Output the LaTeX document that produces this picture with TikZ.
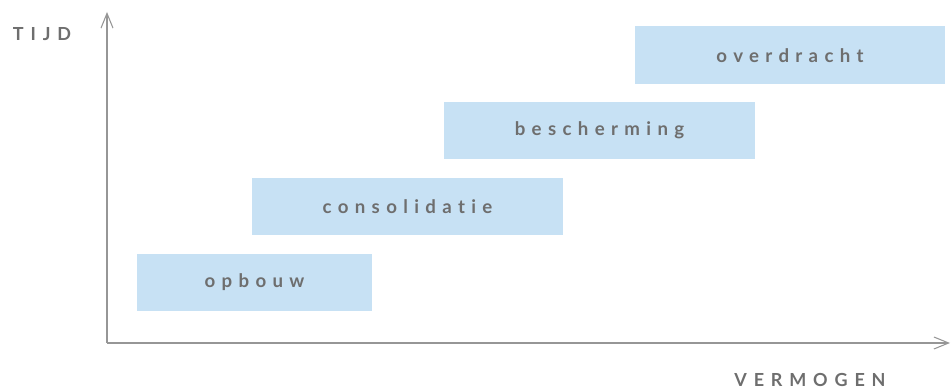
\documentclass[tikz,border=0pt]{standalone}
\usepackage{fontspec}
\setmainfont{Lato}[Ligatures=NoCommon]
\usetikzlibrary{arrows.meta}

\definecolor{stagefill}{RGB}{199,225,244}
\definecolor{labelgray}{RGB}{110,110,110}
\definecolor{axisgray}{RGB}{150,150,150}

\tikzset{
  stage/.style={fill=stagefill, text=labelgray, inner sep=0pt, minimum height=42.75pt,
    font=\fontsize{14}{16}\selectfont\addfontfeature{LetterSpace=34}\bfseries},
  axislabel/.style={text=labelgray, inner sep=0pt,
    font=\fontsize{13.5}{15}\selectfont\addfontfeature{LetterSpace=38}\bfseries},
  axis/.style={draw=axisgray, line width=0.9pt, -{Straight Barb[length=11pt,width=9pt,line width=0.8pt]}}
}

\begin{document}
\begin{tikzpicture}[x=0.75pt,y=0.75pt,yscale=-1,xscale=1]
\useasboundingbox (0,0) rectangle (951,391);

%Axes
\coordinate (origin) at (107,343);
\coordinate (ytop) at (107,12);
\coordinate (xend) at (950,343);
\draw [axis] (origin) -- (ytop) ;
\draw [axis] (origin) -- (xend) ;

% Text Node
\node [axislabel] (tijd) at (42,34) {TIJD};
% Text Node
\node [axislabel] (vermogen) at (810,380) {VERMOGEN};

%Shape: Rectangle
\node [stage, minimum width=176.25pt] (opbouw) at (254.5,282.5) {opbouw};
%Shape: Rectangle
\node [stage, minimum width=233.25pt] (consolidatie) at (407.5,206.5) {consolidatie};
%Shape: Rectangle
\node [stage, minimum width=233.25pt] (bescherming) at (599.5,130.5) {bescherming};
%Shape: Rectangle
\node [stage, minimum width=232.5pt, minimum height=43.5pt] (overdracht) at (790,55.5) {overdracht};

\end{tikzpicture}
\end{document}
